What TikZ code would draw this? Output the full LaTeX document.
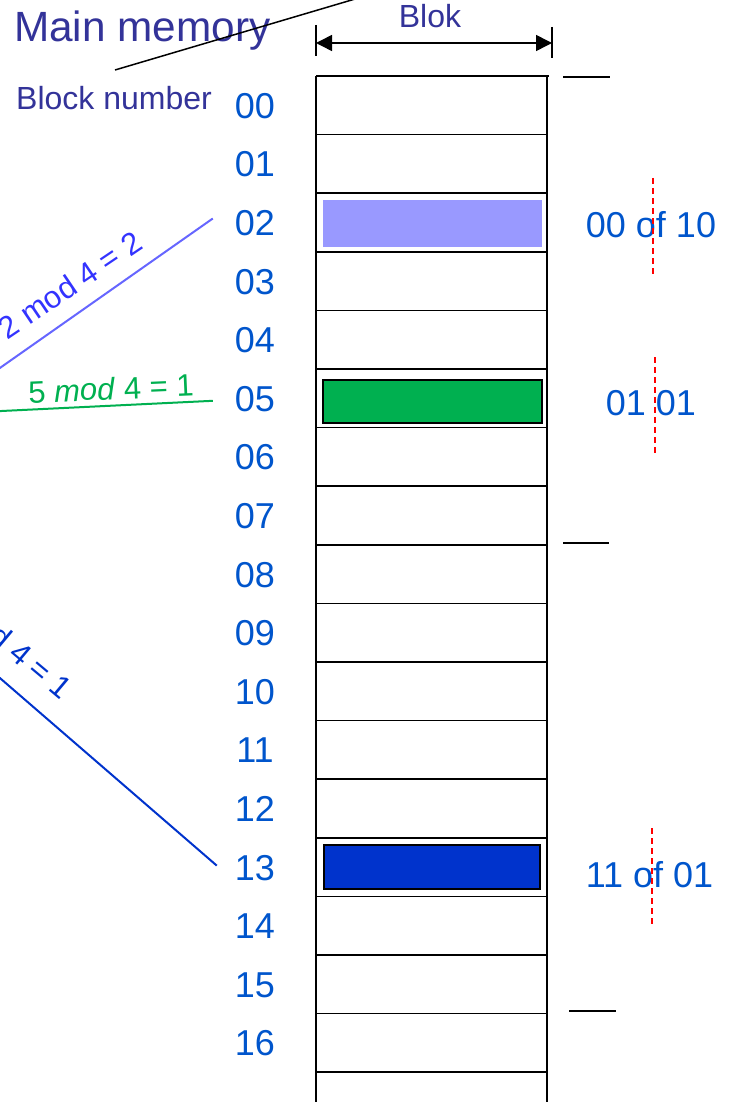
\documentclass[tikz,border=0pt]{standalone}
\usepackage{fontspec}
\setmainfont{Liberation Sans}
\usetikzlibrary{arrows.meta,calc}
\definecolor{titleblue}{HTML}{333399}
\definecolor{numblue}{HTML}{0055CC}
\definecolor{lavender}{HTML}{9999FF}
\definecolor{slotgreen}{HTML}{00B050}
\definecolor{slotblue}{HTML}{0033CC}
\definecolor{modlight}{HTML}{6666FF}
\definecolor{modtext}{HTML}{3333FF}
\newcommand\fsz[1]{\fontsize{#1}{#1}\selectfont}

\begin{document}
\begin{tikzpicture}[x=1pt,y=-1pt,
  numlabel/.style={text=numblue, font=\fsz{36}, inner sep=0pt, anchor=base},
  titletext/.style={text=titleblue, inner sep=0pt},
  rowline/.style={line width=1.6pt},
  colline/.style={line width=2pt},
  tickline/.style={line width=1.5pt},
  slot/.style={inner sep=0pt, anchor=north west},
  cutmark/.style={red, line width=1.5pt, dash pattern=on 6pt off 4pt},
  modlabel/.style={font=\fsz{31}, inner sep=0pt},
  dimarrow/.style={line width=1.5pt,
    arrows={Triangle[length=16pt,width=16pt]-Triangle[length=16pt,width=16pt]}}]
\useasboundingbox (0,0) rectangle (730,1102);
\clip (0,0) rectangle (730,1102);

% headings
\node[titletext, font=\fsz{42.3}, anchor=base west] (title) at (14,42) {Main memory};
\node[titletext, font=\fsz{32}, anchor=base east] (bnum) at (212,110) {Block number};
\node[titletext, font=\fsz{32}, anchor=base] (blok) at (430,28) {Blok};

% pointer from the title
\coordinate (ptrA) at (115,70);
\coordinate (ptrB) at (470,-35);
\draw[line width=1.5pt] (ptrA) -- (ptrB);

% block width dimension
\coordinate (dimL) at (316,43);
\coordinate (dimR) at (552,43);
\draw[tickline] (316,25) -- (316,56);
\draw[tickline] (552,27) -- (552,58);
\draw[dimarrow] (dimL) -- (dimR);

% highlighted blocks
\node[slot, fill=lavender, minimum width=219pt, minimum height=47pt] (blk02) at (323,200) {};
\node[slot, fill=slotgreen, draw=black, line width=1.5pt, minimum width=219pt, minimum height=43pt] (blk05) at (322,379) {};
\node[slot, fill=slotblue, draw=black, line width=1.5pt, minimum width=216pt, minimum height=44pt] (blk13) at (323,844) {};

% memory column
\foreach \k in {0,...,17}
  \draw[rowline] (316,{76+58.6*\k}) -- ({\k==0 ? 549 : 547},{76+58.6*\k});
\draw[colline] (316,76) -- (316,1110);
\draw[colline] (547,76) -- (547,1110);

% block numbers
\foreach \t [count=\i from 0] in {00,01,02,03,04,05,06,07,08,09,10,11,12,13,14,15,16}
  \node[numlabel] (lbl\t) at (255,{105.3+58.6*\i+12.9}) {\t};

% set boundaries
\draw[tickline] (563,77) -- (610,77);
\draw[tickline] (563,543) -- (609,543);
\draw[tickline] (569,1011) -- (616,1011);

% tag / set addresses
\node[numlabel] (addr02) at (651,237) {00 of 10};
\node[numlabel] (addr05) at (651,415) {01 01};
\node[numlabel] (addr13) at (649.5,887) {11 of 01};
\draw[cutmark] (653,178) -- (653,277);
\draw[cutmark] (655,357) -- (655,455);
\draw[cutmark] (652,828) -- (652,925);

% mapping lines
\coordinate (far02) at (-40,396);
\coordinate (far05) at (-40,413);
\coordinate (far13) at (-40,643.5);
\draw[modlight, line width=2pt] (far02) -- ($(lbl02.west)+(-22,-4.5)$);
\draw[slotgreen, line width=2pt] (far05) -- ($(lbl05.west)+(-22,2)$);
\draw[slotblue, line width=2pt] (far13) -- ($(lbl13.west)+(-18,-2)$);

\node[modlabel, text=modtext, rotate=34] (mod02) at (70,285) {2 mod 4 = 2};
\node[modlabel, text=slotgreen, rotate=2.5] (mod05) at (111,388.5) {5 \textit{mod} 4 = 1};
\node[modlabel, text=slotblue, rotate=-40] (mod13) at (-2,634) {13 mod 4 = 1};
\end{tikzpicture}
\end{document}
